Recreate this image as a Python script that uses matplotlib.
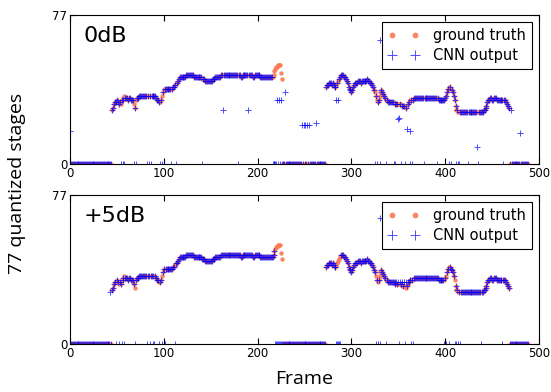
import numpy as np
import matplotlib
matplotlib.use("Agg")
import matplotlib.pyplot as plt

# ground truth stage index (0..76), voiced segments, one value per frame
gt_seg1_start = 45
gt_seg1 = [28, 29, 31, 32, 32, 33, 32, 31, 32, 31, 33, 33, 34, 35, 34,
           34, 34, 33, 34, 34, 33, 33, 33, 31, 29, 33, 34, 34, 34, 35,
           35, 35, 35, 35, 35, 35, 35, 35, 35, 35, 35, 35, 35, 35, 35,
           35, 35, 34, 33, 33, 32, 32, 33, 35, 37, 39, 39, 39, 39, 39,
           39, 39, 39, 39, 39, 40, 40, 41, 42, 42, 43, 44, 45, 45, 45,
           45, 45, 45, 45, 46, 46, 46, 46, 46, 46, 46, 46, 45, 45, 45,
           45, 45, 45, 45, 45, 45, 44, 44, 44, 43, 43, 43, 43, 43, 43,
           43, 43, 44, 44, 44, 45, 45, 45, 45, 45, 45, 46, 46, 46, 46,
           46, 46, 46, 46, 46, 46, 46, 46, 46, 46, 46, 46, 46, 46, 46,
           46, 46, 45, 45, 46, 46, 46, 46, 46, 46, 46, 46, 46, 46, 46,
           45, 45, 46, 46, 46, 46, 46, 46, 45, 45, 45, 45, 45, 45, 45,
           45, 45, 45, 45, 45, 45, 45, 46, 48, 49, 50, 50, 51, 51, 51,
           47, 44]
gt_seg2_start = 273
gt_seg2 = [40, 41, 41, 42, 42, 42, 41, 42, 41, 40, 40, 41, 42, 43, 44,
           45, 46, 46, 46, 45, 45, 44, 43, 42, 40, 39, 38, 37, 38, 40,
           41, 42, 42, 42, 43, 43, 43, 42, 43, 43, 43, 43, 43, 43, 44,
           43, 43, 42, 42, 41, 40, 38, 37, 35, 33, 32, 33, 35, 37, 38,
           37, 36, 35, 34, 33, 33, 32, 32, 32, 32, 32, 32, 32, 31, 31,
           31, 31, 31, 31, 31, 31, 30, 30, 30, 30, 29, 30, 31, 32, 33,
           33, 33, 33, 33, 34, 34, 34, 34, 34, 34, 34, 34, 34, 34, 34,
           34, 34, 34, 34, 34, 34, 34, 34, 34, 34, 34, 34, 34, 34, 34,
           33, 33, 33, 33, 33, 33, 33, 34, 35, 37, 39, 40, 40, 39, 38,
           37, 35, 33, 30, 28, 28, 27, 27, 27, 27, 27, 27, 27, 27, 27,
           27, 27, 27, 27, 27, 27, 27, 27, 27, 27, 27, 27, 27, 27, 27,
           27, 27, 27, 28, 28, 29, 30, 32, 33, 33, 34, 34, 33, 33, 34,
           34, 34, 33, 33, 33, 33, 33, 33, 33, 33, 33, 33, 32, 31, 30,
           29]
n_frames = 489

# CNN output at 0dB: frames where it differs from the ground truth
cnn_0db_wrong = {0: 17, 163: 28, 190: 28, 221: 33, 223: 33, 225: 33,
                 229: 37, 247: 20, 249: 20, 251: 20, 253: 20, 255: 20,
                 262: 21, 284: 33, 286: 33, 330: 64, 350: 23, 351: 24,
                 359: 18, 362: 17, 434: 9, 470: 28, 480: 16}
cnn_0db_zero = [54, 57, 58, 68, 70, 82, 84, 86, 96, 98, 100, 108, 113, 141,
                179, 216, 217, 218, 219, 220, 222, 224, 226, 325, 327, 331,
                337, 345, 347, 353, 357, 363, 365, 377, 391, 404, 406, 412,
                414, 415, 424, 435, 462]

# CNN output at +5dB
cnn_5db_wrong = {43: 27, 330: 65, 346: 32, 348: 32, 350: 32, 352: 32,
                 354: 32, 356: 32, 358: 32, 360: 32}
cnn_5db_zero = [49, 52, 55, 58, 69, 82, 85, 88, 90, 95, 98, 101, 112,
                219, 220, 221, 222, 223, 224, 225, 226, 284, 285, 286, 287,
                288, 326, 328, 331, 337, 346, 348, 351, 354, 357, 364, 366,
                399, 401, 404, 410, 412, 414, 416, 438, 461]

frames = np.arange(n_frames)
gt = np.zeros(n_frames)
gt[gt_seg1_start:gt_seg1_start + len(gt_seg1)] = gt_seg1
gt[gt_seg2_start:gt_seg2_start + len(gt_seg2)] = gt_seg2


def make_cnn(wrong, zero):
    out = gt.copy()
    out[zero] = 0
    for k, v in wrong.items():
        out[k] = v
    return out


cnn_0db = make_cnn(cnn_0db_wrong, cnn_0db_zero)
cnn_5db = make_cnn(cnn_5db_wrong, cnn_5db_zero)

plt.rcParams['font.family'] = 'DejaVu Sans'
fig = plt.figure(figsize=(5.51, 3.92), dpi=100)
L, R = 70 / 551, 539 / 551
ax1 = fig.add_axes([L, 1 - 164 / 392, R - L, 149 / 392])
ax2 = fig.add_axes([L, 1 - 344 / 392, R - L, 149 / 392])

for ax, cnn, title in [(ax1, cnn_0db, '0dB'), (ax2, cnn_5db, '+5dB')]:
    ax.plot(frames, gt, 'o', color='#fa7a52', markersize=3.2,
            markeredgewidth=0, alpha=0.9, label='ground truth')
    ax.plot(frames, cnn, '+', color='blue', markersize=5,
            markeredgewidth=0.7, alpha=0.7, label='CNN output')
    ax.set_xlim(0, 500)
    ax.set_ylim(0, 77)
    ax.set_yticks([0, 77])
    ax.set_xticks([0, 100, 200, 300, 400, 500])
    ax.tick_params(direction='in', top=True, right=True, length=4,
                   labelsize=8.5, pad=2)
    ax.text(0.028, 0.925, title, transform=ax.transAxes, va='top',
            ha='left', fontsize=16)
    leg = ax.legend(loc='upper right', numpoints=2, fontsize=10.5,
                    fancybox=False, framealpha=1, edgecolor='black',
                    borderaxespad=0.5, handlelength=2.2, markerscale=1.3,
                    handletextpad=0.9, labelspacing=0.35)
    leg.get_frame().set_linewidth(0.8)
    leg.set_zorder(5)

fig.text(17 / 551, 1 - 183 / 392, '77 quantized stages', rotation=90,
         ha='center', va='center', fontsize=14, family='Open Sans')
fig.text(304 / 551, 1 - 379 / 392, 'Frame', ha='center', va='center',
         fontsize=14, family='Open Sans')

fig.savefig('out.png', dpi=100)
